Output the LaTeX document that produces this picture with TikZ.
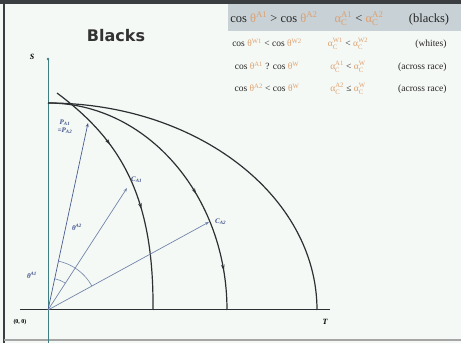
\documentclass[tikz,border=0pt]{standalone}
\usepackage{fontspec}
\setmainfont{Liberation Serif}
\newfontfamily\titlefont{DejaVu Sans}
\usetikzlibrary{arrows.meta,decorations.markings}

\definecolor{paper}{RGB}{245,249,245}
\definecolor{framedark}{RGB}{58,62,64}
\definecolor{bandgray}{RGB}{200,209,214}
\definecolor{axisteal}{RGB}{62,128,130}
\definecolor{raydark}{RGB}{70,92,145}
\definecolor{raylight}{RGB}{115,132,170}
\definecolor{curvedark}{RGB}{45,48,50}
\definecolor{greek}{RGB}{222,160,110}
\definecolor{lblblue}{RGB}{60,80,140}

% greek letter with sub- and superscript
\newcommand{\gk}[3]{{\color{greek}#1\makebox[0pt][l]{\raisebox{-0.35ex}{\textsubscript{#2}}}\textsuperscript{#3}}}

\begin{document}
\begin{tikzpicture}[x=1pt,y=1pt,
  curve/.style={draw=curvedark,line width=1.2pt},
  ray/.style={draw=raylight,line width=0.7pt,-{Stealth[length=4pt,width=3pt]}},
  anglearc/.style={draw=raylight,line width=0.6pt},
  rowbig/.style={text=black!85,inner sep=1pt,font=\fontsize{12.5}{14}\selectfont},
  rowsmall/.style={text=black!85,inner sep=1pt,font=\fontsize{9.5}{11}\selectfont},
  ptlabel/.style={text=lblblue,font=\fontsize{7}{8}\selectfont\itshape\bfseries,inner sep=1pt},
  innermarks/.style={postaction={decorate,decoration={markings,
    mark=at position 0.30 with {\arrow{Stealth[length=6pt,width=3.5pt]}},
    mark=at position 0.59 with {\arrow{Stealth[length=6pt,width=3.5pt]}}}}},
  middlemarks/.style={postaction={decorate,decoration={markings,
    mark=at position 0.60 with {\arrow{Stealth[length=6pt,width=3.5pt]}},
    mark=at position 0.87 with {\arrow{Stealth[length=6pt,width=3.5pt]}}}}}]

% page and frame
\fill[paper] (-48,-33) rectangle (413,310);
\useasboundingbox (-48,-33) rectangle (413,310);
\fill[framedark] (-48,306) rectangle (413,310);
\draw[framedark,line width=2pt] (-44,306) -- (-44,-33);
\draw[black!35,line width=1.5pt] (-44,-30) -- (413,-30);
\fill[bandgray] (180,279) rectangle (413,306);

\node[font=\titlefont\bfseries\fontsize{16}{18}\selectfont,text=black!80] (title) at (68,274) {Blacks};

% axes
\coordinate (O) at (0,0);
\coordinate (Stop) at (0,251);
\coordinate (Sbot) at (0,-33);
\coordinate (Tleft) at (-28,0);
\coordinate (Tend) at (282,0);
\draw[axisteal,line width=1pt] (Sbot) -- (Stop);
\fill[axisteal] (Stop) circle (1.3);
\draw[curvedark,line width=1pt] (Tleft) -- (Tend);
\node[font=\fontsize{8}{9}\selectfont\bfseries\itshape] (S) at (-16,253) {S};
\node[font=\fontsize{8}{9}\selectfont\bfseries\itshape] (T) at (277,-12) {T};
\node[font=\fontsize{6}{7}\selectfont\bfseries] (orig) at (-28,-12) {(0, 0)};

% curves
\draw[curve] (0,207) arc[start angle=90,end angle=0,x radius=269,y radius=207];
\draw[curve,middlemarks] (0,207) arc[start angle=90,end angle=0,x radius=179,y radius=207];
\draw[curve,innermarks] (9,217) .. controls (72,170) and (106,115) .. (105,0);

% rays
\coordinate (P) at (40,187);
\coordinate (CA1) at (79,122);
\coordinate (CA2) at (161,88);
\draw[ray,draw=raydark] (O) -- (P);
\draw[ray] (O) -- (CA1);
\draw[ray] (O) -- (CA2);
\draw[anglearc] (O) ++(77.9:32) arc[start angle=77.9,end angle=57.1,radius=32];
\draw[anglearc] (O) ++(77.9:50) arc[start angle=77.9,end angle=28.7,radius=50];

\node[ptlabel] (thA1) at (-16,35) {θ\textsuperscript{A1}};
\node[ptlabel] (thA2) at (29,83) {θ\textsuperscript{A2}};
\node[ptlabel,align=center] (Plab) at (17,183) {P\textsubscript{A1}\\=P\textsubscript{A2}};
\node[ptlabel,anchor=south west] (CA1lab) at ([shift={(3,4)}]CA1) {C\textsubscript{A1}};
\node[ptlabel,anchor=west] (CA2lab) at ([shift={(5,0)}]CA2) {C\textsubscript{A2}};

% table
\node[rowbig] (r1a) at (226,291) {cos \gk{θ}{}{A1} > cos \gk{θ}{}{A2}};
\node[rowbig] (r1b) at (311,291) {\gk{α}{C}{A1} < \gk{α}{C}{A2}};
\node[rowbig] (r1c) at (381,291) {(blacks)};
\node[rowsmall] (r2a) at (219,266) {cos \gk{θ}{}{W1} < cos \gk{θ}{}{W2}};
\node[rowsmall] (r2b) at (300,266) {\gk{α}{C}{W1} < \gk{α}{C}{W2}};
\node[rowsmall] (r2c) at (383,266) {(whites)};
\node[rowsmall] (r3a) at (219,243) {cos \gk{θ}{}{A1} ? cos \gk{θ}{}{W}};
\node[rowsmall] (r3b) at (300,243) {\gk{α}{C}{A1} < \gk{α}{C}{W}};
\node[rowsmall,anchor=west] (r3c) at (349,243) {(across race)};
\node[rowsmall] (r4a) at (219,221) {cos \gk{θ}{}{A2} < cos \gk{θ}{}{W}};
\node[rowsmall] (r4b) at (300,221) {\gk{α}{C}{A2} ≤ \gk{α}{C}{W}};
\node[rowsmall,anchor=west] (r4c) at (349,221) {(across race)};
\end{tikzpicture}
\end{document}
